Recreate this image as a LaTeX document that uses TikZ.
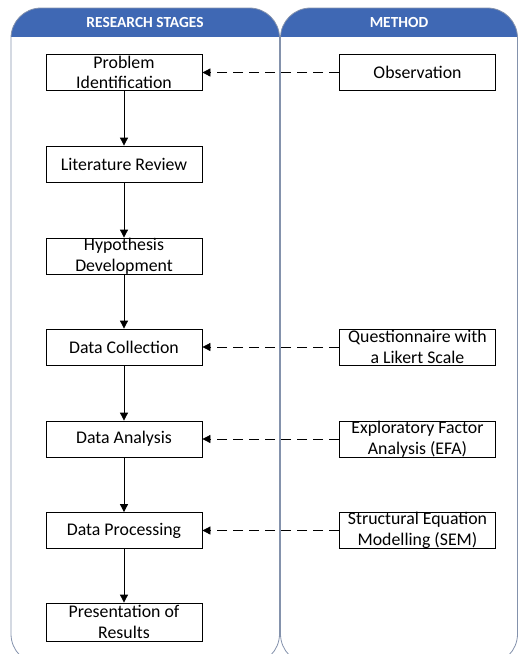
\documentclass[tikz,border=0pt]{standalone}
\usepackage{fontspec}
\setmainfont{Carlito}
\usetikzlibrary{arrows.meta}

\definecolor{hdrblue}{RGB}{63,104,180}
\definecolor{panelgray}{RGB}{132,146,172}

\tikzset{
    stagebox/.style={draw, thick, minimum width=156pt, minimum height=36pt, inner sep=0pt,
        align=center, font=\fontsize{17.8}{20.5}\selectfont},
    flow/.style={thick, -{Triangle[width=8pt,length=8pt]}},
    link/.style={thick, dash pattern=on 10pt off 6pt, -{Triangle[width=8pt,length=8pt]}},
    panel/.style={draw=panelgray, thick, rounded corners=30pt},
    hdrtext/.style={text=white, font=\fontsize{15.4}{17}\selectfont\bfseries}
}

\begin{document}
\begin{tikzpicture}[x=1pt, y=-1pt]
        \useasboundingbox (0,0) rectangle (520,654);
        % panels with blue headers
        \begin{scope}
            \clip[rounded corners=30pt] (11,8) rectangle (279.5,664);
            \fill[hdrblue] (11,8) rectangle (279.5,37);
        \end{scope}
        \begin{scope}
            \clip[rounded corners=30pt] (280.5,8) rectangle (517.5,664);
            \fill[hdrblue] (280.5,8) rectangle (517.5,37);
        \end{scope}
        \draw[panel] (11,8) rectangle (279.5,664);
        \draw[panel] (280.5,8) rectangle (517.5,664);
        \node[hdrtext] (stages) at (145,23) {RESEARCH STAGES};
        \node[hdrtext] (method) at (399,23) {METHOD};

        % research stages
        \node[stagebox] (problem)    at (124,72.5) {Problem\\Identification};
        \node[stagebox] (literature) at (124,164)  {Literature Review};
        \node[stagebox] (hypothesis) at (124,256)  {Hypothesis\\Development};
        \node[stagebox] (collection) at (124,347)  {Data Collection};
        \node[stagebox] (analysis)   at (124,439)  {Data Analysis};
        \node[stagebox] (processing) at (124,530.5){Data Processing};
        \node[stagebox, minimum height=38pt] (results) at (124,622) {Presentation of\\Results};

        % methods
        \node[stagebox] (observation)   at (417.5,72.5) {Observation};
        \node[stagebox] (questionnaire) at (417.5,347)  {Questionnaire with\\a Likert Scale};
        \node[stagebox] (efa)           at (417.5,439)  {Exploratory Factor\\Analysis (EFA)};
        \node[stagebox] (sem)           at (417.5,530.5){Structural Equation\\Modelling (SEM)};

        \draw[flow] (problem) -- (literature);
        \draw[flow] (literature) -- (hypothesis);
        \draw[flow] (hypothesis) -- (collection);
        \draw[flow] (collection) -- (analysis);
        \draw[flow] (analysis) -- (processing);
        \draw[flow] (processing) -- (results);

        \draw[link] (observation) -- (problem);
        \draw[link] (questionnaire) -- (collection);
        \draw[link] (efa) -- (analysis);
        \draw[link] (sem) -- (processing);
    \end{tikzpicture}
\end{document}
